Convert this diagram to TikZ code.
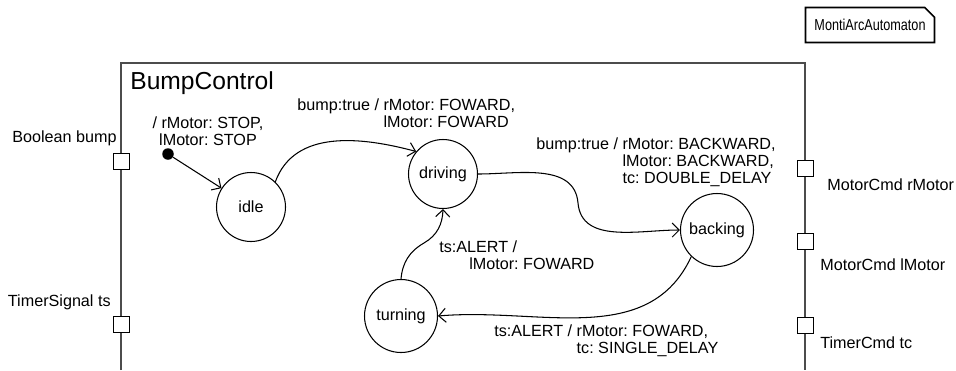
\documentclass[tikz,border=0pt]{standalone}
\usepackage{fontspec}
\usepackage{graphicx}
\setmainfont{Liberation Sans}
\usetikzlibrary{positioning,arrows.meta,shapes.misc}
\frenchspacing

\begin{document}
\begin{tikzpicture}[x=0.02cm, y=0.02cm, >={Straight Barb[length=4pt,width=8pt]}, every node/.style={font=\fontsize{9.2}{9.6}\selectfont}]
\tikzstyle{state}=[circle, draw, minimum size=1.38cm, inner sep=0pt, line width=0.6pt]
\tikzstyle{port}=[rectangle, draw, fill=white, minimum size=0.32cm, inner sep=0pt, line width=0.5pt]
\tikzstyle{portname}=[inner sep=0pt]
\tikzstyle{trans}=[->, line width=0.6pt]
\tikzstyle{guard}=[align=left, inner sep=0pt]
\useasboundingbox (0,0) rectangle (956,370);

% Component frame
\draw[black!70, line width=0.7pt] (121,0) -- (121,307) -- (805,307) -- (805,0);
\node[anchor=west, inner sep=0pt, font=\fontsize{14}{16}\selectfont] (title) at (130,287) {BumpControl};
\node[chamfered rectangle, chamfered rectangle corners=north east, chamfered rectangle xsep=2pt,
  draw, line width=0.9pt, minimum width=2.58cm, minimum height=0.7cm, inner sep=0pt,
  font=\fontsize{9}{10}\selectfont] (kind) at (870,345) {\scalebox{0.8}[1]{MontiArcAutomaton}};

% Ports
\node[port] (pbump) at (121,209) {};
\node[port] (pts) at (121,46) {};
\node[port] (prm) at (805,202) {};
\node[port] (plm) at (805,129) {};
\node[port] (ptc) at (805,45) {};
\node[portname, anchor=east] (lbump) at (117,232) {Boolean bump};
\node[portname, anchor=east] (lts) at (111,68) {TimerSignal ts};
\node[portname, anchor=west] (lrm) at (827,185) {MotorCmd rMotor};
\node[portname, anchor=west] (llm) at (820,105) {MotorCmd lMotor};
\node[portname, anchor=west] (ltc) at (820,27) {TimerCmd tc};

% States
\node[state] (idle) at (251,163) {idle};
\node[state] (driving) at (443,196) {driving};
\node[state, minimum size=1.46cm] (backing) at (717,140) {backing};
\node[state, minimum size=1.46cm] (turning) at (401,54) {turning};
\node[circle, fill, inner sep=0pt, minimum size=0.23cm] (init) at (168,216) {};
\coordinate (m1) at (578,167);
\coordinate (m2) at (424,127);

% Transitions
\draw[trans] (init) -- (idle);
\draw[trans] (idle.46) to[out=70,in=165] (driving.140);
\draw[trans] (driving.east) to[out=0,in=95] (m1) to[out=-85,in=180] (backing.west);
\draw[trans] (backing.226) to[out=245,in=5] (turning.east);
\draw[trans] (turning.north) to[out=85,in=210] (m2) to[out=30,in=-92] (driving.south);

% Labels
\node[align=center, inner sep=0pt] (tinit) at (208,239) {/ rMotor: STOP,\\lMotor: STOP};
\node[guard, anchor=west] (t1) at (297,255) {bump:true / rMotor: FOWARD,\\\phantom{bump:true / }lMotor: FOWARD};
\node[guard, anchor=west] (t2) at (536,208) {bump:true / rMotor: BACKWARD,\\\phantom{bump:true / }lMotor: BACKWARD,\\\phantom{bump:true / }tc: DOUBLE\_DELAY};
\node[guard, anchor=west] (t3) at (494,29) {ts:ALERT / rMotor: FOWARD,\\\phantom{ts:ALERT / }tc: SINGLE\_DELAY};
\node[guard, anchor=west] (t4) at (439,115) {ts:ALERT /\\\hspace*{1.85em}lMotor: FOWARD};
\end{tikzpicture}
\end{document}
